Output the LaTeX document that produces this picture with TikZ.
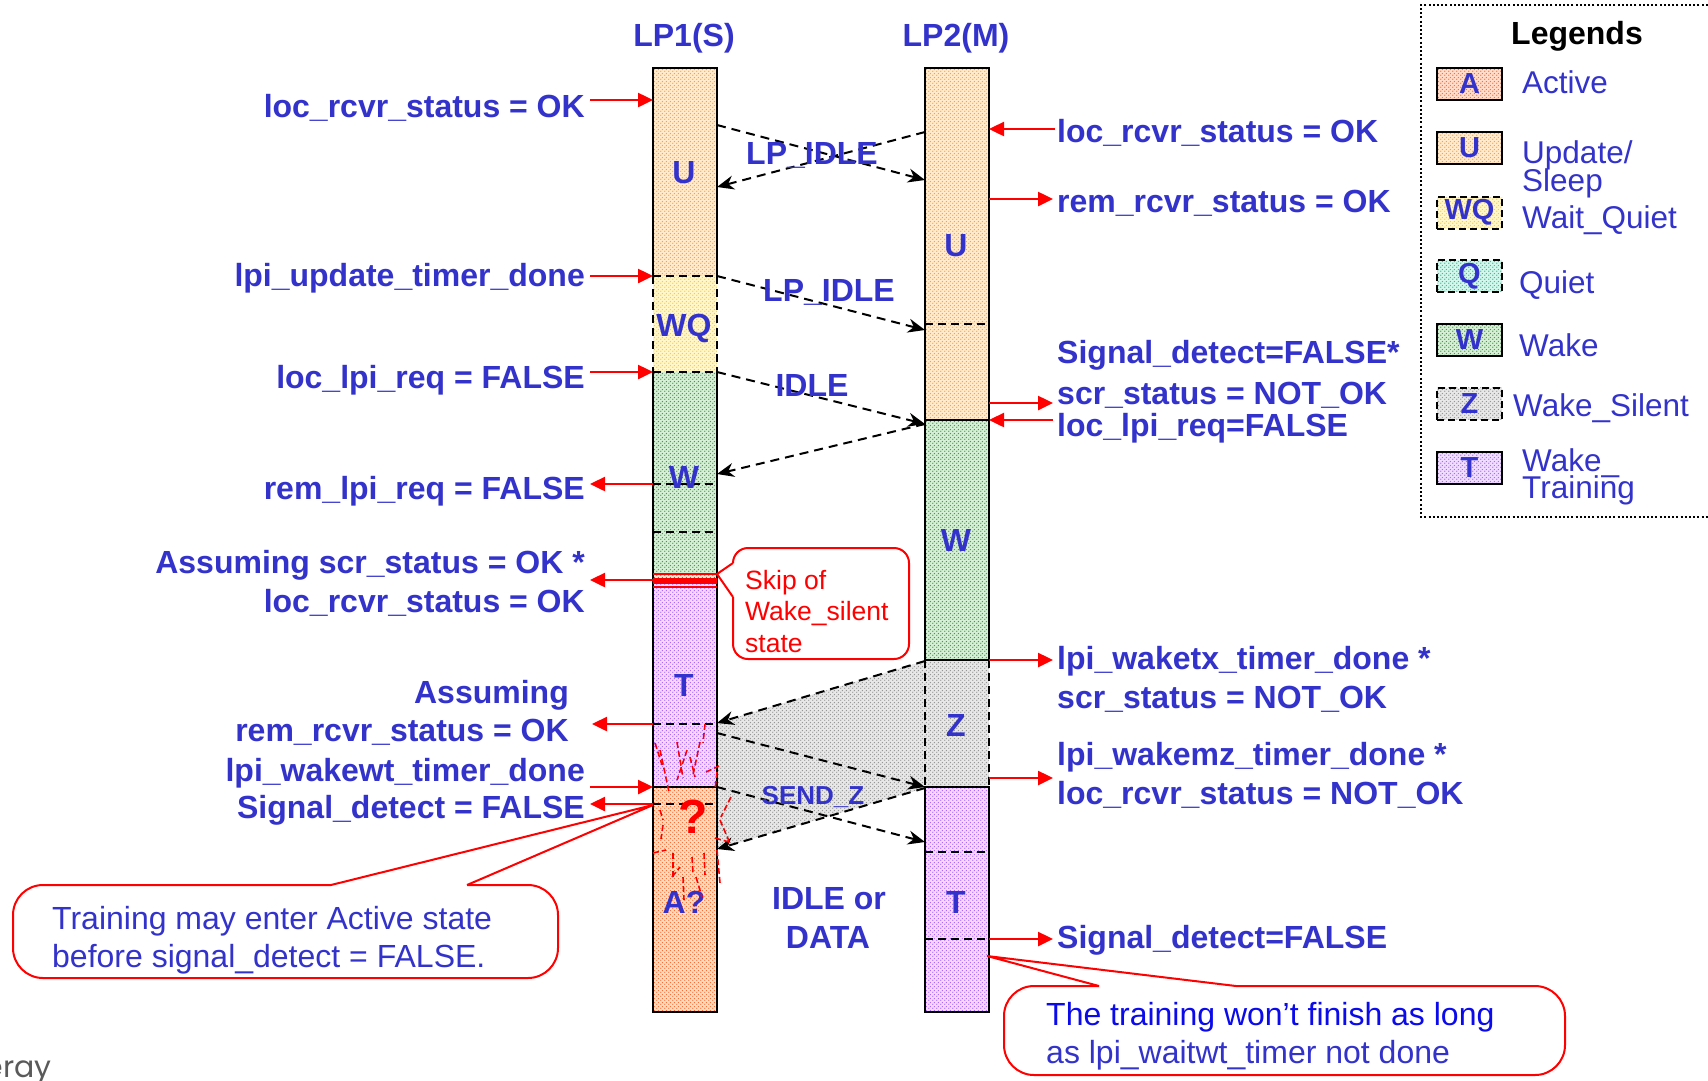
\documentclass[tikz,border=0pt]{standalone}
\usepackage{fontspec}
\setmainfont{Liberation Sans}
\newfontfamily\logofont{Poppins}
\usetikzlibrary{arrows.meta,patterns.meta}

\definecolor{tb}{RGB}{51,51,204}
\definecolor{tbb}{RGB}{10,10,235}
\definecolor{udot}{RGB}{255,160,50}
\definecolor{ubg}{RGB}{255,236,208}
\definecolor{adot}{RGB}{255,110,45}
\definecolor{abg}{RGB}{255,222,204}
\definecolor{wqdot}{RGB}{255,205,40}
\definecolor{wqbg}{RGB}{255,247,205}
\definecolor{qdot}{RGB}{35,200,150}
\definecolor{qbg}{RGB}{214,245,236}
\definecolor{wdot}{RGB}{50,170,50}
\definecolor{wbg}{RGB}{216,238,216}
\definecolor{zdot}{RGB}{150,150,150}
\definecolor{zbg}{RGB}{232,232,232}
\definecolor{tdot}{RGB}{180,100,255}
\definecolor{tbg}{RGB}{240,222,255}
\definecolor{logogray}{RGB}{90,90,90}

\tikzdeclarepattern{
  name=mydots,
  type=uncolored,
  bounding box={(0pt,0pt) and (4pt,4pt)},
  tile size={(4pt,4pt)},
  code={\fill (1pt,1pt) circle (0.85pt); \fill (3pt,3pt) circle (0.85pt);}
}

\tikzset{
  ufill/.style={preaction={fill=ubg}, pattern=mydots, pattern color=udot},
  afill/.style={preaction={fill=abg}, pattern=mydots, pattern color=adot},
  wqfill/.style={preaction={fill=wqbg}, pattern=mydots, pattern color=wqdot},
  qfill/.style={preaction={fill=qbg}, pattern=mydots, pattern color=qdot},
  wfill/.style={preaction={fill=wbg}, pattern=mydots, pattern color=wdot},
  zfill/.style={preaction={fill=zbg}, pattern=mydots, pattern color=zdot},
  tfill/.style={preaction={fill=tbg}, pattern=mydots, pattern color=tdot},
  seg/.style={line width=2pt, draw=black},
  segdash/.style={line width=2pt, draw=black, dash pattern=on 8pt off 5pt},
  lbl/.style={font=\fontsize{32}{32}\selectfont\bfseries, text=tb, inner sep=0pt},
  lblL/.style={lbl, anchor=base east},
  lblR/.style={lbl, anchor=base west},
  lblC/.style={lbl, anchor=base},
  legtxt/.style={font=\fontsize{31.5}{31.5}\selectfont, text=tb, inner sep=0pt, anchor=base west},
  redarr/.style={draw=red, line width=2.5pt, -{Triangle[length=15pt,width=14pt]}},
  msg/.style={draw=black, line width=2pt, dash pattern=on 9pt off 6pt, -{Stealth[length=17pt,width=14pt]}},
  boom/.style={draw=red, line width=1.6pt, dash pattern=on 6pt off 3pt},
  callout/.style={draw=red, line width=2pt},
  swatch/.style={draw=black, line width=2pt, minimum width=65pt, minimum height=32pt, inner sep=0pt,
     font=\fontsize{29}{29}\selectfont\bfseries, text=tb},
}

\begin{document}
\begin{tikzpicture}[x=1pt,y=-1pt]
\useasboundingbox (0,0) rectangle (1708,1080);
\fill[white] (0,0) rectangle (1708,1080);

% ---- gray SEND_Z region
\path[zfill] (925,661) -- (717,723) -- (717,849) -- (925,788) -- cycle;

% ---- LP1 column
\path[ufill] (653,68) rectangle (717,276);
\path[wqfill] (653,276) rectangle (717,372);
\path[wfill] (653,372) rectangle (717,580);
\path[tfill] (653,580) rectangle (717,787);
\path[afill] (653,787) rectangle (717,1012);
\draw[seg] (653,276) -- (653,68) -- (717,68) -- (717,276);
\draw[segdash] (653,276) -- (653,372) (717,276) -- (717,372) (653,276) -- (717,276) (653,372) -- (717,372);
\draw[seg] (653,372) -- (653,1012) -- (717,1012) -- (717,372);
\draw[segdash] (653,484) -- (717,484) (653,532) -- (717,532) (653,724) -- (717,724) (653,804) -- (717,804);
\draw[seg] (653,787) -- (717,787);
\draw[red, line width=2.5pt] (653,574) -- (717,574) (653,587) -- (717,587);
\draw[red, line width=6pt] (653,580.5) -- (717,580.5);

% ---- LP2 column
\path[ufill] (925,68) rectangle (989,420);
\path[wfill] (925,420) rectangle (989,660);
\path[zfill] (925,660) rectangle (989,787);
\path[tfill] (925,787) rectangle (989,1012);
\draw[seg] (925,660) -- (925,68) -- (989,68) -- (989,660);
\draw[segdash] (925,324) -- (989,324);
\draw[seg] (925,420) -- (989,420) (925,660) -- (989,660);
\draw[segdash] (925,660) -- (925,787) (989,660) -- (989,787);
\draw[seg] (925,787) -- (925,1012) -- (989,1012) -- (989,787) -- cycle;
\draw[segdash] (925,852) -- (989,852) (925,939) -- (989,939);

% ---- column coordinates
\coordinate (a1s) at (717,125); \coordinate (a1e) at (925,180);
\coordinate (a2s) at (925,132); \coordinate (a2e) at (717,187);
\coordinate (a3s) at (717,276); \coordinate (a3e) at (925,330);
\coordinate (a4s) at (717,372); \coordinate (a4e) at (925,424);
\coordinate (a5s) at (925,424); \coordinate (a5e) at (717,474);
\coordinate (a6s) at (925,661); \coordinate (a6e) at (717,723);
\coordinate (a7s) at (717,733); \coordinate (a7e) at (925,787);
\coordinate (a8s) at (717,787); \coordinate (a8e) at (925,842);
\coordinate (a9s) at (925,788); \coordinate (a9e) at (717,849);

% ---- message arrows
\draw[msg] (a1s) -- (a1e);
\draw[msg] (a2s) -- (a2e);
\draw[msg] (a3s) -- (a3e);
\draw[msg] (a4s) -- (a4e);
\draw[msg] (a5s) -- (a5e);
\draw[msg] (a6s) -- (a6e);
\draw[msg] (a7s) -- (a7e);
\draw[msg] (a8s) -- (a8e);
\draw[msg] (a9s) -- (a9e);

% ---- message labels
\node[lblC] (m1) at (812,164) {LP\_IDLE};
\node[lblC] (m2) at (829,301) {LP\_IDLE};
\node[lblC] (m3) at (812,396) {IDLE};
\node[lbl, anchor=base, font=\fontsize{26}{26}\selectfont\bfseries] (m4) at (813,804) {SEND\_Z};
\node[lblC] (m5) at (829,909) {IDLE or};
\node[lblC] (m6) at (828,948) {DATA};

% ---- headers and state letters
\node[lblC] (h1) at (684,46) {LP1(S)};
\node[lblC] (h2) at (956,46) {LP2(M)};
\node[lblC] (s1) at (684,183) {U};
\node[lblC] (s2) at (684,336) {WQ};
\node[lblC] (s3) at (684,488) {W};
\node[lblC] (s4) at (684,696) {T};
\node[lblC] (s5) at (684,913) {A?};
\node[lblC] (s6) at (956,256) {U};
\node[lblC] (s7) at (956,551) {W};
\node[lblC] (s8) at (956,736) {Z};
\node[lblC] (s9) at (956,913) {T};

% ---- left labels
\node[lblL] (l1) at (585,117) {loc\_rcvr\_status = OK};
\node[lblL] (l2) at (585,286) {lpi\_update\_timer\_done};
\node[lblL] (l3) at (585,388) {loc\_lpi\_req = FALSE};
\node[lblL] (l4) at (585,499) {rem\_lpi\_req = FALSE};
\node[lblL] (l5) at (585,573) {Assuming scr\_status = OK *};
\node[lblL] (l6) at (585,612) {loc\_rcvr\_status = OK};
\node[lblL] (l7) at (569,703) {Assuming};
\node[lblL] (l8) at (569,741) {rem\_rcvr\_status = OK};
\node[lblL] (l9) at (585,781) {lpi\_wakewt\_timer\_done};
\node[lblL] (l10) at (585,818) {Signal\_detect = FALSE};

\coordinate (p1a) at (590,100); \coordinate (p1b) at (653,100);
\coordinate (p2a) at (590,276); \coordinate (p2b) at (653,276);
\coordinate (p3a) at (590,372); \coordinate (p3b) at (653,372);
\coordinate (p4a) at (653,484); \coordinate (p4b) at (590,484);
\coordinate (p5a) at (653,580); \coordinate (p5b) at (590,580);
\coordinate (p6a) at (653,724); \coordinate (p6b) at (592,724);
\coordinate (p7a) at (590,787); \coordinate (p7b) at (653,787);
\coordinate (p8a) at (653,804); \coordinate (p8b) at (590,804);
\draw[redarr] (p1a) -- (p1b);
\draw[redarr] (p2a) -- (p2b);
\draw[redarr] (p3a) -- (p3b);
\draw[redarr] (p4a) -- (p4b);
\draw[redarr] (p5a) -- (p5b);
\draw[redarr] (p6a) -- (p6b);
\draw[redarr] (p7a) -- (p7b);
\draw[redarr] (p8a) -- (p8b);

% ---- right labels
\node[lblR] (r1) at (1057,142) {loc\_rcvr\_status = OK};
\node[lblR] (r2) at (1057,212) {rem\_rcvr\_status = OK};
\node[lblR] (r3) at (1057,363) {Signal\_detect=FALSE*};
\node[lblR] (r4) at (1057,404) {scr\_status = NOT\_OK};
\node[lblR] (r5) at (1057,436) {loc\_lpi\_req=FALSE};
\node[lblR] (r6) at (1057,669) {lpi\_waketx\_timer\_done *};
\node[lblR] (r7) at (1057,708) {scr\_status = NOT\_OK};
\node[lblR] (r8) at (1057,765) {lpi\_wakemz\_timer\_done *};
\node[lblR] (r9) at (1057,804) {loc\_rcvr\_status = NOT\_OK};
\node[lblR] (r10) at (1057,948) {Signal\_detect=FALSE};

\coordinate (q1a) at (1055,129); \coordinate (q1b) at (989,129);
\coordinate (q2a) at (989,199); \coordinate (q2b) at (1053,199);
\coordinate (q3a) at (989,403); \coordinate (q3b) at (1053,403);
\coordinate (q4a) at (1053,420); \coordinate (q4b) at (989,420);
\coordinate (q5a) at (989,660); \coordinate (q5b) at (1053,660);
\coordinate (q6a) at (989,778); \coordinate (q6b) at (1053,778);
\coordinate (q7a) at (989,939); \coordinate (q7b) at (1053,939);
\draw[redarr] (q1a) -- (q1b);
\draw[redarr] (q2a) -- (q2b);
\draw[redarr] (q3a) -- (q3b);
\draw[redarr] (q4a) -- (q4b);
\draw[redarr] (q5a) -- (q5b);
\draw[redarr] (q6a) -- (q6b);
\draw[redarr] (q7a) -- (q7b);

% ---- explosion scribbles
\draw[boom] (705,724) -- (703,743);
\draw[boom] (655,743) -- (662,765);
\draw[boom] (660,750) -- (669,792);
\draw[boom] (677,742) -- (683,778);
\draw[boom] (687,750) -- (677,780);
\draw[boom] (690,757) -- (695,777);
\draw[boom] (700,742) -- (693,775);
\draw[boom] (706,772) -- (719,766);
\draw[boom] (717,772) -- (715,790);
\draw[boom] (731,797) -- (721,817);
\draw[boom] (720,820) -- (729,841);
\draw[boom] (715,838) -- (729,842);
\draw[boom] (653,853) -- (666,850);
\draw[boom] (663,825) -- (661,839);
\draw[boom] (673,853) -- (673,877);
\draw[boom] (672,877) -- (680,867);
\draw[boom] (683,877) -- (684,900);
\draw[boom] (692,857) -- (693,873);
\draw[boom] (704,853) -- (705,875);
\draw[boom] (696,877) -- (702,897);
\draw[boom] (717,850) -- (720,883);
\draw[boom] (660,810) -- (663,820);
\node[lbl, text=red, anchor=base, font=\fontsize{48}{48}\selectfont\bfseries] (qm) at (693,833) {?};

% ---- legend
\draw[black, line width=2pt, dash pattern=on 2pt off 2.2pt] (1712,5) -- (1421,5) -- (1421,517) -- (1712,517);
\node[lbl, text=black, anchor=base] (legt) at (1577,44) {Legends};
\node[swatch, afill] (la) at (1469.5,84) {A};
\node[swatch, ufill] (lu) at (1469.5,148) {U};
\node[swatch, wqfill, dash pattern=on 7pt off 4pt] (lwq) at (1469.5,212.5) {WQ};
\node[swatch, qfill, dash pattern=on 7pt off 4pt] (lq) at (1469.5,276) {Q};
\node[swatch, wfill] (lw) at (1469.5,339.5) {W};
\node[swatch, zfill, dash pattern=on 7pt off 4pt] (lz) at (1469.5,403.5) {Z};
\node[swatch, tfill] (lt) at (1469.5,468) {T};
\node[legtxt] (ta) at (1522,93) {Active};
\node[legtxt] (tu1) at (1522,163) {Update/};
\node[legtxt] (tu2) at (1522,191) {Sleep};
\node[legtxt] (twq) at (1522,228) {Wait\_Quiet};
\node[legtxt] (tq) at (1519,293) {Quiet};
\node[legtxt] (tw) at (1519,356) {Wake};
\node[legtxt] (tz) at (1513,416) {Wake\_Silent};
\node[legtxt] (tt1) at (1522,471) {Wake\_};
\node[legtxt] (tt2) at (1522,498) {Training};

% ---- callout: skip of wake_silent
\coordinate (sk) at (717,574);
\draw[callout, rounded corners=15pt] (733,563) -- (733,548) -- (909,548) -- (909,659) -- (733,659) -- (733,597);
\draw[callout] (733,563) -- (sk) -- (733,597);
\node[font=\fontsize{26.5}{26.5}\selectfont, text=red, inner sep=0pt, anchor=base west] (sk1) at (745,589) {Skip of};
\node[font=\fontsize{26.5}{26.5}\selectfont, text=red, inner sep=0pt, anchor=base west] (sk2) at (745,620) {Wake\_silent};
\node[font=\fontsize{26.5}{26.5}\selectfont, text=red, inner sep=0pt, anchor=base west] (sk3) at (745,652) {state};

% ---- callout: training may enter active
\coordinate (ct1) at (653,805);
\draw[callout, rounded corners=30pt] (331,885) -- (13,885) -- (13,978) -- (558,978) -- (558,885) -- (467,885);
\draw[callout] (331,885) -- (ct1) -- (467,885);
\node[legtxt, font=\fontsize{32}{32}\selectfont] (c1a) at (52,929) {Training may enter Active state};
\node[legtxt, font=\fontsize{32}{32}\selectfont] (c1b) at (52,967) {before signal\_detect = FALSE.};

% ---- callout: training won't finish
\coordinate (ct2) at (987,956);
\draw[callout, rounded corners=30pt] (1099,986) -- (1004,986) -- (1004,1075) -- (1565,1075) -- (1565,986) -- (1236,986);
\draw[callout] (1099,986) -- (ct2) -- (1236,986);
\node[legtxt, text=tbb, font=\fontsize{32}{32}\selectfont] (c2a) at (1046,1025) {The training won’t finish as long};
\node[legtxt, font=\fontsize{32}{32}\selectfont] (c2b) at (1046,1063) {as lpi\_waitwt\_timer not done};

% ---- cut-off logo text
\node[font=\logofont\fontsize{30}{30}\selectfont, text=logogray, inner sep=0pt, anchor=base east] (logo) at (52,1077) {eray};
\end{tikzpicture}
\end{document}
